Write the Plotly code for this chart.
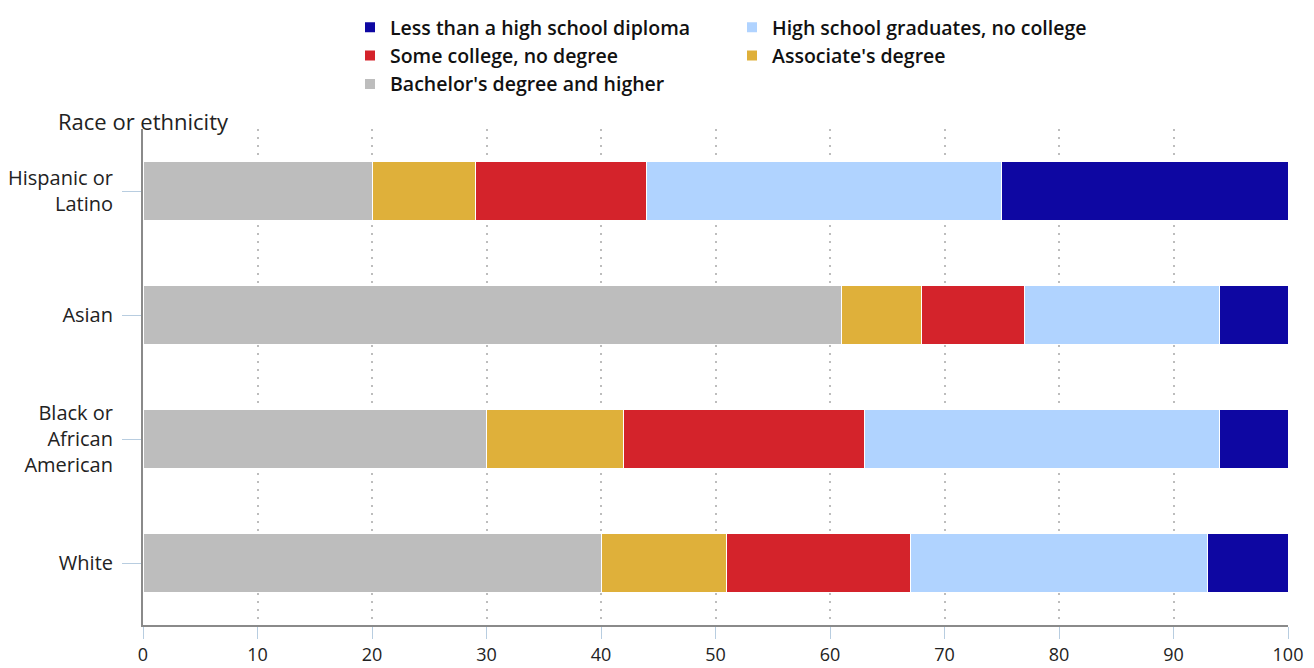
import plotly.graph_objects as go

categories = ["White", "Black or<br>African<br>American", "Asian", "Hispanic or<br>Latino"]
bachelor = [40, 30, 61, 20]
associate = [11, 12, 7, 9]
some_college = [16, 21, 9, 15]
hs_grad = [26, 31, 17, 31]
less_hs = [7, 6, 6, 25]
x_ticks = [0, 10, 20, 30, 40, 50, 60, 70, 80, 90, 100]

series = [
    ("Bachelor's degree and higher", bachelor, "#bdbdbd", "legend"),
    ("Associate's degree", associate, "#dfb03a", "legend2"),
    ("Some college, no degree", some_college, "#d4232b", "legend"),
    ("High school graduates, no college", hs_grad, "#b0d3ff", "legend2"),
    ("Less than a high school diploma", less_hs, "#0e07a2", "legend"),
]

legend_rank = {
    "Less than a high school diploma": 1,
    "Some college, no degree": 2,
    "Bachelor's degree and higher": 3,
    "High school graduates, no college": 1,
    "Associate's degree": 2,
}

fig = go.Figure()
for name, vals, color, leg in series:
    fig.add_trace(go.Bar(
        y=categories, x=vals, name=name, orientation="h",
        marker=dict(color=color, line=dict(color="white", width=1)),
        width=0.48, legend=leg, legendrank=legend_rank[name],
    ))

font_family = "Open Sans, Noto Sans, sans-serif"
W, H = 1306, 660
L, R, T, B = 135, 26, 121, 43
pw = W - L - R
ph = H - T - B

legend_common = dict(
    orientation="v", xanchor="left", yanchor="top", yref="container", xref="paper",
    font=dict(family=font_family, size=19.5, color="#111", weight=600),
    bgcolor="rgba(0,0,0,0)", itemsizing="constant", traceorder="normal",
    itemwidth=30, y=1.0,
)

fig.update_layout(
    width=W, height=H,
    margin=dict(l=L, r=R, t=T, b=B),
    barmode="stack",
    plot_bgcolor="white", paper_bgcolor="white",
    font=dict(family=font_family, size=20, color="#222"),
    legend=dict(x=(342 - L) / pw, **legend_common),
    legend2=dict(x=(724 - L) / pw, **legend_common),
    xaxis=dict(
        range=[0, 100], tickvals=x_ticks, ticks="outside", ticklen=12,
        tickcolor="#b8cde0", tickwidth=1, automargin=False,
        showgrid=True, gridcolor="#bdbdbd", griddash="2px,6px", gridwidth=1.5,
        showline=True, linecolor="#8a8a8a", linewidth=2,
        zeroline=False, tickfont=dict(size=18, color="#222"),
    ),
    yaxis=dict(
        categoryorder="array", categoryarray=categories,
        range=[-0.5, 3.5], ticks="outside", ticklen=19, automargin=False,
        tickcolor="#b8cde0", tickwidth=1, ticklabelstandoff=5,
        showline=True, linecolor="#8a8a8a", linewidth=2,
        showgrid=False, tickfont=dict(size=20, color="#222"),
    ),
    annotations=[dict(
        text="Race or ethnicity", x=(48 - L) / pw, y=1 + 8 / ph,
        xref="paper", yref="paper",
        showarrow=False, font=dict(size=22, color="#222"),
        xanchor="left", yanchor="middle",
    )],
)

fig.write_html("out.html")
